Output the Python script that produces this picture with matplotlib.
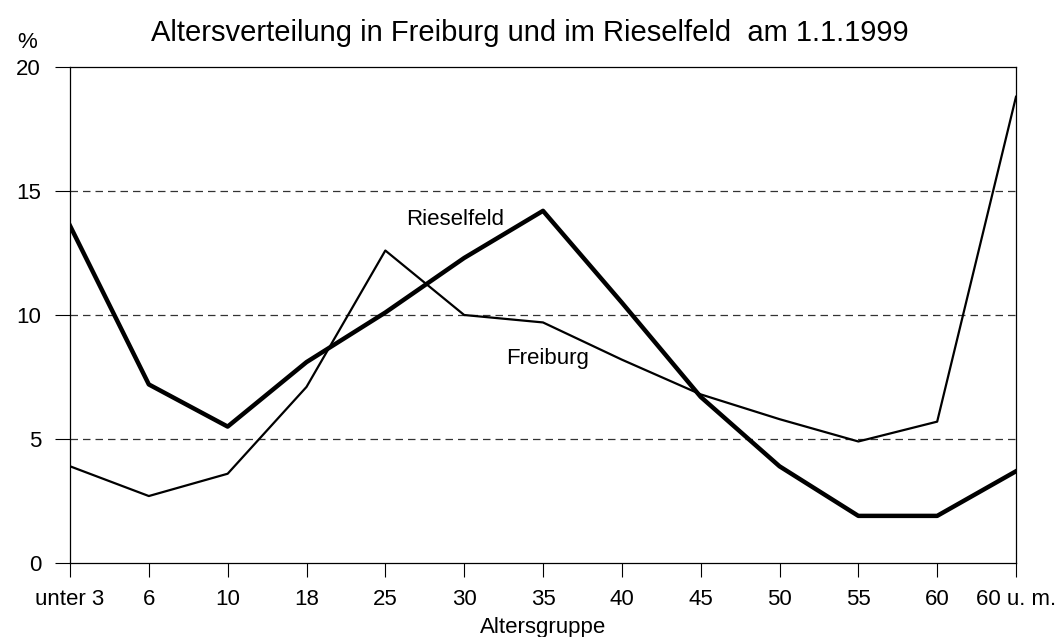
# Altersverteilung Freiburg / Rieselfeld, 1.1.1999

import matplotlib
matplotlib.use("Agg")
import matplotlib.pyplot as plt

groups = ["unter 3", "6", "10", "18", "25", "30", "35", "40",
          "45", "50", "55", "60", "60 u. m."]
rieselfeld = [13.6, 7.2, 5.5, 8.1, 10.1, 12.3, 14.2, 10.5,
              6.7, 3.9, 1.9, 1.9, 3.7]
freiburg = [3.9, 2.7, 3.6, 7.1, 12.6, 10.0, 9.7, 8.2,
            6.8, 5.8, 4.9, 5.7, 18.8]


def main():
    plt.rcParams["font.family"] = ["Liberation Sans", "DejaVu Sans"]

    fig = plt.figure(figsize=(10.6, 6.37), dpi=100)
    ax = fig.add_axes([70 / 1060, 1 - 563 / 637, 946 / 1060, 496 / 637])

    x = list(range(len(groups)))
    for level in (5, 10, 15):
        ax.axhline(level, color="#333333", lw=0.9, ls=(0, (6, 4)), zorder=1)

    ax.plot(x, freiburg, color="k", lw=1.6, zorder=3)
    ax.plot(x, rieselfeld, color="k", lw=3.2, zorder=3)

    ax.set_xlim(0, len(groups) - 1)
    ax.set_ylim(0, 20)
    ax.set_xticks(x)
    ax.set_xticklabels(groups)
    ax.set_yticks([0, 5, 10, 15, 20])
    ax.tick_params(axis="y", labelsize=16, length=10.8, width=0.8,
                   direction="out", pad=10)
    ax.tick_params(axis="x", labelsize=16, length=10, width=0.8,
                   direction="out", pad=9)
    for side in ax.spines.values():
        side.set_linewidth(0.9)

    ax.text(4.88, 13.63, "Rieselfeld", fontsize=16, ha="center", va="baseline")
    ax.text(6.06, 8.02, "Freiburg", fontsize=16, ha="center", va="baseline")

    ax.set_xlabel("Altersgruppe", fontsize=16, va="baseline")
    ax.xaxis.set_label_coords(0.5, -0.141)
    fig.text(0.5, 1 - 33 / 637, "Altersverteilung in Freiburg und im Rieselfeld  am 1.1.1999",
             fontsize=21, ha="center", va="center")
    fig.text(27 / 1060, 1 - 43 / 637, "%", fontsize=16, ha="center", va="center")

    fig.savefig("out.png", dpi=100)


if __name__ == "__main__":
    main()
